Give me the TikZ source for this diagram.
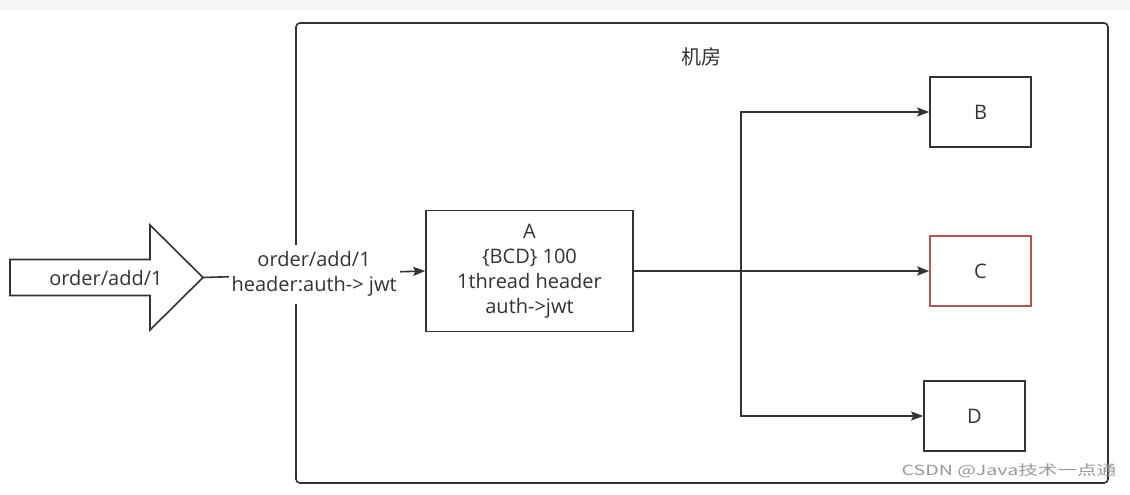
\documentclass[tikz,border=0pt]{standalone}
\usepackage{fontspec}
\setmainfont{Open Sans}
\newfontfamily\cjkfont{Noto Sans CJK SC}
\usetikzlibrary{arrows.meta}
\usetikzlibrary{calc,positioning}
\definecolor{linegray}{HTML}{333333}
\definecolor{boxred}{HTML}{B85450}

\begin{document}
\begin{tikzpicture}[x=1pt, y=-1pt,
    >={Stealth[length=12pt,width=9pt,inset=2pt]},
    every node/.style={font=\fontsize{20}{25}\selectfont, text=linegray},
    wire/.style={draw=linegray, line width=1.6pt},
    srvbox/.style={wire, minimum width=101pt, minimum height=70pt, inner sep=0pt},
    mainbox/.style={wire, minimum width=207pt, minimum height=121pt, align=center, inner sep=0pt}
]

%%%

    \useasboundingbox (0,0) rectangle (1130,495);
    \fill[white] (0,0) rectangle (1130,495);
    \fill[black!4] (0,0) rectangle (1130,10);

    % machine room
    \draw[wire, rounded corners=4pt] (296,23) rectangle (1108,483);
    \node (room) at (701,57) {\cjkfont 机房};

    % incoming request
    \draw[wire, line join=miter] (10,259.5) -- (150,259.5) -- (150,225) -- (203,277.5) coordinate (tip)
        -- (150,330) -- (150,295.5) -- (10,295.5) -- cycle;
    \node (req) at (106,278) {order/add/1};

    \node[mainbox] (A) at (529.5,271) {A\\\{BCD\} 100\\1thread header\\auth->jwt};
    \node[srvbox] (B) at (980.5,112) {B};
    \node[srvbox, draw=boxred] (C) at (980.5,271) {C};
    \node[srvbox] (D) at (974.5,416) {D};

    \draw[wire, ->] (tip) -- node[fill=white, align=center, inner xsep=3pt, inner ysep=7pt] (hdr)
        {order/add/1\\header:auth-> jwt} (A.west);

    \coordinate (split) at (741,271);
    \draw[wire, ->] (A.east) -- (C.west);
    \draw[wire, ->] (split) |- (B.west);
    \draw[wire, ->] (split) |- (D.west);

    \node[text=black!40, font=\cjkfont\fontsize{14}{14}\selectfont, xscale=1.4, inner sep=0pt] (mark) at (1009,471)
        {CSDN @Java技术一点通};

\end{tikzpicture}
\end{document}
